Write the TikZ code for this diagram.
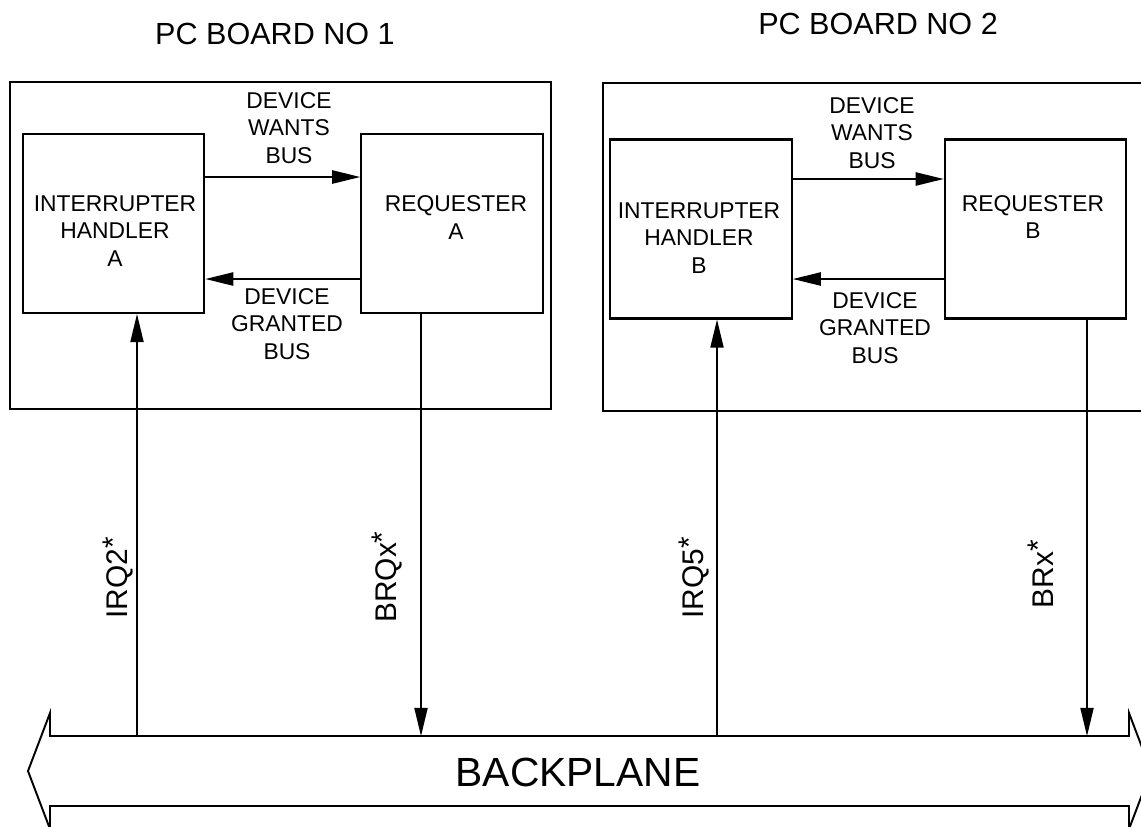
\documentclass[tikz,border=0pt]{standalone}
\usepackage{fontspec}
\setmainfont{Liberation Sans}
\usetikzlibrary{arrows.meta,positioning}

\newcommand{\actlow}{\raisebox{0.3ex}{*}}

\begin{document}
\begin{tikzpicture}[
    x=0.02cm, y=-0.02cm,
    >={Triangle[length=16pt,width=7.5pt]},
    font=\fontsize{13}{15.5}\selectfont,
    board/.style={draw, line width=1.2pt},
    blk/.style={draw, line width=1.2pt, inner sep=0pt,
      minimum width=3.63cm, minimum height=3.58cm},
    txt/.style={align=center, inner sep=0pt},
    title/.style={txt, font=\fontsize{17.4}{20}\selectfont},
    flow/.style={line width=1.1pt},
    sig/.style={line width=0.8pt},
    sigl/.style={inner sep=0pt, rotate=90, font=\fontsize{17}{20}\selectfont},
    bus/.style={line width=1.1pt},
  ]
  \useasboundingbox (0,0) rectangle (1141,826);

  % PC board no 1
  \draw[board] (10,82) rectangle (551,409);
  \node[title] (title1) at (275,34) {PC BOARD NO 1};
  \node[blk] (hA) at (113.5,223.5) {};
  \node[txt] (hAtxt) at (115,231) {INTERRUPTER\\HANDLER\\A};
  \node[blk, right=3.1cm of hA] (rA) {};
  \node[txt] (rAtxt) at (456,217.5) {REQUESTER\\A};

  \draw[flow, ->] (hA.east |- 0,177) -- (rA.west |- 0,177);
  \draw[flow, ->] (rA.west |- 0,279) -- (hA.east |- 0,279);
  \node[txt] (wantsA) at (289,128) {DEVICE\\WANTS\\BUS};
  \node[txt] (grantA) at (287,324) {DEVICE\\GRANTED\\BUS};

  % PC board no 2
  \draw[board] (603,83) rectangle (1170,411);
  \node[title] (title2) at (878,24) {PC BOARD NO 2};
  \node[blk] (hB) at (701,229) {};
  \node[txt] (hBtxt) at (699,238) {INTERRUPTER\\HANDLER\\B};
  \node[blk, right=3.02cm of hB] (rB) {};
  \node[txt] (rBtxt) at (1033,217) {REQUESTER\\B};

  \draw[flow, ->] (hB.east |- 0,179) -- (rB.west |- 0,179);
  \draw[flow, ->] (rB.west |- 0,279) -- (hB.east |- 0,279);
  \node[txt] (wantsB) at (872,133) {DEVICE\\WANTS\\BUS};
  \node[txt] (grantB) at (875,328) {DEVICE\\GRANTED\\BUS};

  % Backplane
  \draw[bus] (50,736) -- (1129,736) -- (1129,713) -- (1151,771) -- (1129,829)
    -- (1129,806) -- (50,806) -- (50,829) -- (28,771) -- (50,713) -- cycle;
  \node[txt, font=\fontsize{23.2}{28}\selectfont] (bp) at (578,772) {BACKPLANE};

  % Bus lines
  \coordinate (irqA) at (137,736);
  \coordinate (brqA) at (421,736);
  \coordinate (irqB) at (717,736);
  \coordinate (brB) at (1087,736);
  \draw[sig, ->] (irqA) -- (irqA |- hA.south);
  \draw[sig, ->] (brqA |- rA.south) -- (brqA);
  \draw[sig, ->] (irqB) -- (irqB |- hB.south);
  \draw[sig, ->] (brB |- rB.south) -- (brB);

  \node[sigl] (irqAl) at (118,578) {IRQ2\actlow};
  \node[sigl] (brqAl) at (387,577) {BRQx\actlow};
  \node[sigl] (irqBl) at (694,578) {IRQ5\actlow};
  \node[sigl] (brBl) at (1041,574) {BRx\actlow};
\end{tikzpicture}
\end{document}
